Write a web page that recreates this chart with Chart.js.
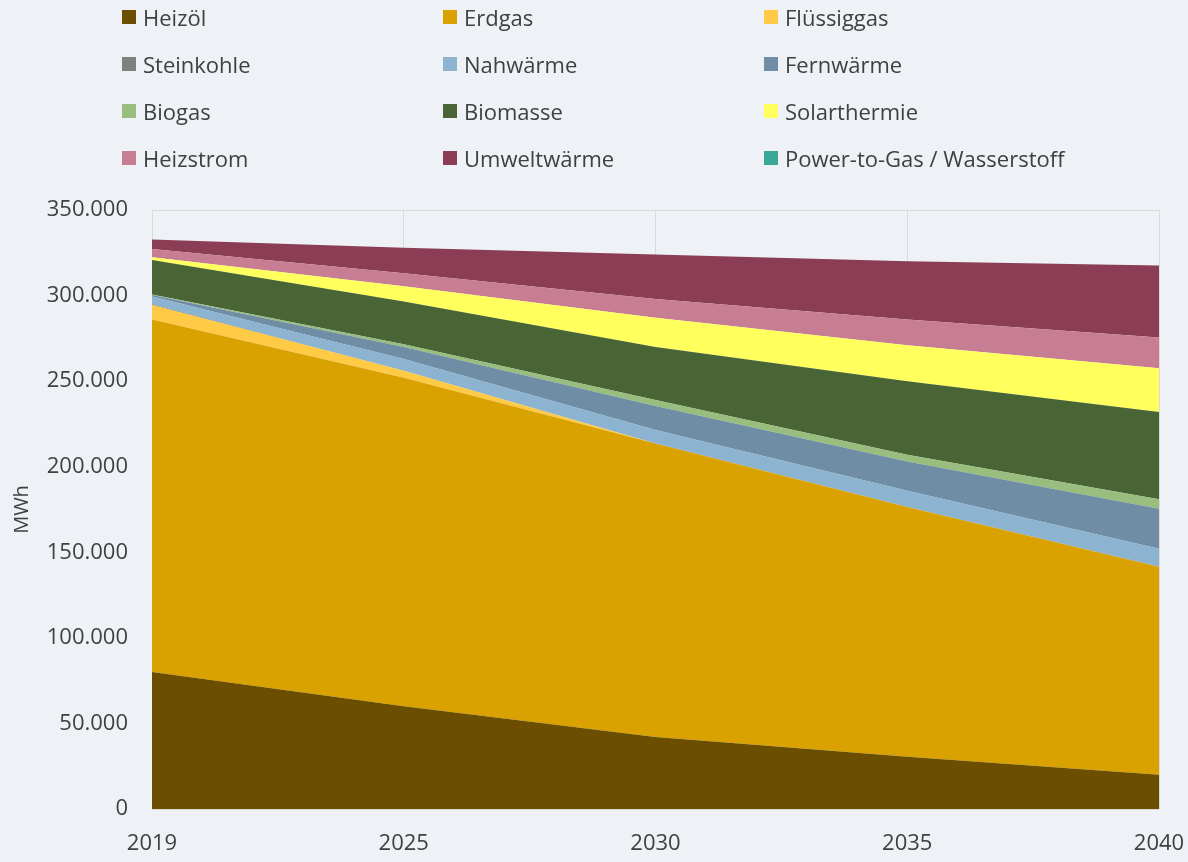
<!DOCTYPE html>
<html lang="de">
<head>
<meta charset="utf-8">
<title>Wärmebedarf nach Energieträger</title>
<script src="https://cdn.jsdelivr.net/npm/chart.js@4.4.1/dist/chart.umd.min.js"></script>
<style>
    html, body { margin: 0; padding: 0; background: #eef2f6; }
    #wrap { position: relative; width: 1188px; height: 862px; }
    #legend {
        position: absolute; left: 122px; top: -7px;
        display: grid; grid-template-columns: 321px 321px 321px;
        grid-auto-rows: 47px;
        font-family: "Open Sans", "Noto Sans", sans-serif; font-size: 22px; color: #404040;
    }
    #legend div { display: flex; align-items: center; }
    #legend span.box { display: inline-block; width: 14px; height: 14px; margin-right: 7px; }
</style>
</head>
<body>
<div id="wrap">
    <canvas id="chart" width="1188" height="862"></canvas>
    <div id="legend"></div>
</div>
<script>
// years on the x axis
const years = ['2019', '2025', '2030', '2035', '2040'];

// MWh per energy carrier
const heizoel      = [80000, 60000, 42000, 30500, 20000];
const erdgas       = [206000, 192000, 171500, 146000, 121500];
const fluessiggas  = [8500, 4000, 0, 0, 0];
const steinkohle   = [500, 0, 0, 0, 0];
const nahwaerme    = [4500, 7000, 8000, 9500, 10500];
const fernwaerme   = [800, 7000, 14000, 17000, 23500];
const biogas       = [300, 1500, 3500, 4000, 5500];
const biomasse     = [20200, 25000, 31000, 43000, 51000];
const solarthermie = [1600, 9000, 17000, 21000, 25500];
const heizstrom    = [4800, 7500, 11000, 15000, 18000];
const umweltwaerme = [5500, 15000, 26000, 34000, 42000];
const powerToGas   = [0, 0, 0, 0, 0];

const seriesNames = ['Heizöl', 'Erdgas', 'Flüssiggas', 'Steinkohle', 'Nahwärme', 'Fernwärme',
    'Biogas', 'Biomasse', 'Solarthermie', 'Heizstrom', 'Umweltwärme', 'Power-to-Gas / Wasserstoff'];
const seriesData = [heizoel, erdgas, fluessiggas, steinkohle, nahwaerme, fernwaerme,
    biogas, biomasse, solarthermie, heizstrom, umweltwaerme, powerToGas];
const seriesColors = ['#6b4e00', '#d9a200', '#ffca45', '#808080', '#8cb4d0', '#6f8ea6',
    '#98bd7d', '#4a6535', '#ffff5e', '#c87e92', '#8a3d54', '#3aa896'];

const yTicks = [0, 50000, 100000, 150000, 200000, 250000, 300000, 350000];

function fmtDe(v) {
    return String(v).replace(/\B(?=(\d{3})+(?!\d))/g, '.');
}

const datasets = seriesNames.map((name, i) => ({
    label: name,
    data: seriesData[i],
    backgroundColor: seriesColors[i],
    borderColor: seriesColors[i],
    borderWidth: 0,
    pointRadius: 0,
    tension: 0,
    fill: i === 0 ? 'origin' : '-1'
}));

const FONT = { family: '"Open Sans", "Noto Sans", sans-serif', size: 22 };

const chart = new Chart(document.getElementById('chart'), {
    type: 'line',
    data: { labels: years, datasets: datasets },
    options: {
        responsive: false,
        animation: false,
        layout: { padding: { top: 210, right: 0, bottom: 0, left: 0 } },
        plugins: {
            legend: { display: false },
            tooltip: { enabled: false }
        },
        scales: {
            x: {
                afterFit: axis => {
                    axis.height = 53;
                    axis.paddingLeft = 0;
                    axis.paddingRight = 29;
                },
                grid: { color: '#d9d9d9', lineWidth: 1, drawTicks: false },
                border: { display: false },
                ticks: { color: '#404040', font: FONT, padding: 22, maxRotation: 0 }
            },
            y: {
                stacked: true,
                min: 0,
                max: 350000,
                afterBuildTicks: axis => { axis.ticks = yTicks.map(v => ({ value: v })); },
                afterFit: axis => { axis.width = 152; },
                grid: { color: '#d9d9d9', lineWidth: 1, drawTicks: false },
                border: { display: true, color: '#d9d9d9' },
                title: { display: true, text: 'MWh', color: '#404040', font: { family: FONT.family, size: 20 }, padding: { top: 10, bottom: 0 } },
                ticks: { color: '#404040', font: FONT, padding: 24, callback: v => fmtDe(v) }
            }
        }
    }
});

// legend as a 3 column grid, built from the chart's datasets
const legendEl = document.getElementById('legend');
chart.data.datasets.forEach(ds => {
    const item = document.createElement('div');
    const box = document.createElement('span');
    box.className = 'box';
    box.style.background = ds.backgroundColor;
    item.appendChild(box);
    item.appendChild(document.createTextNode(ds.label));
    legendEl.appendChild(item);
});
</script>
</body>
</html>
